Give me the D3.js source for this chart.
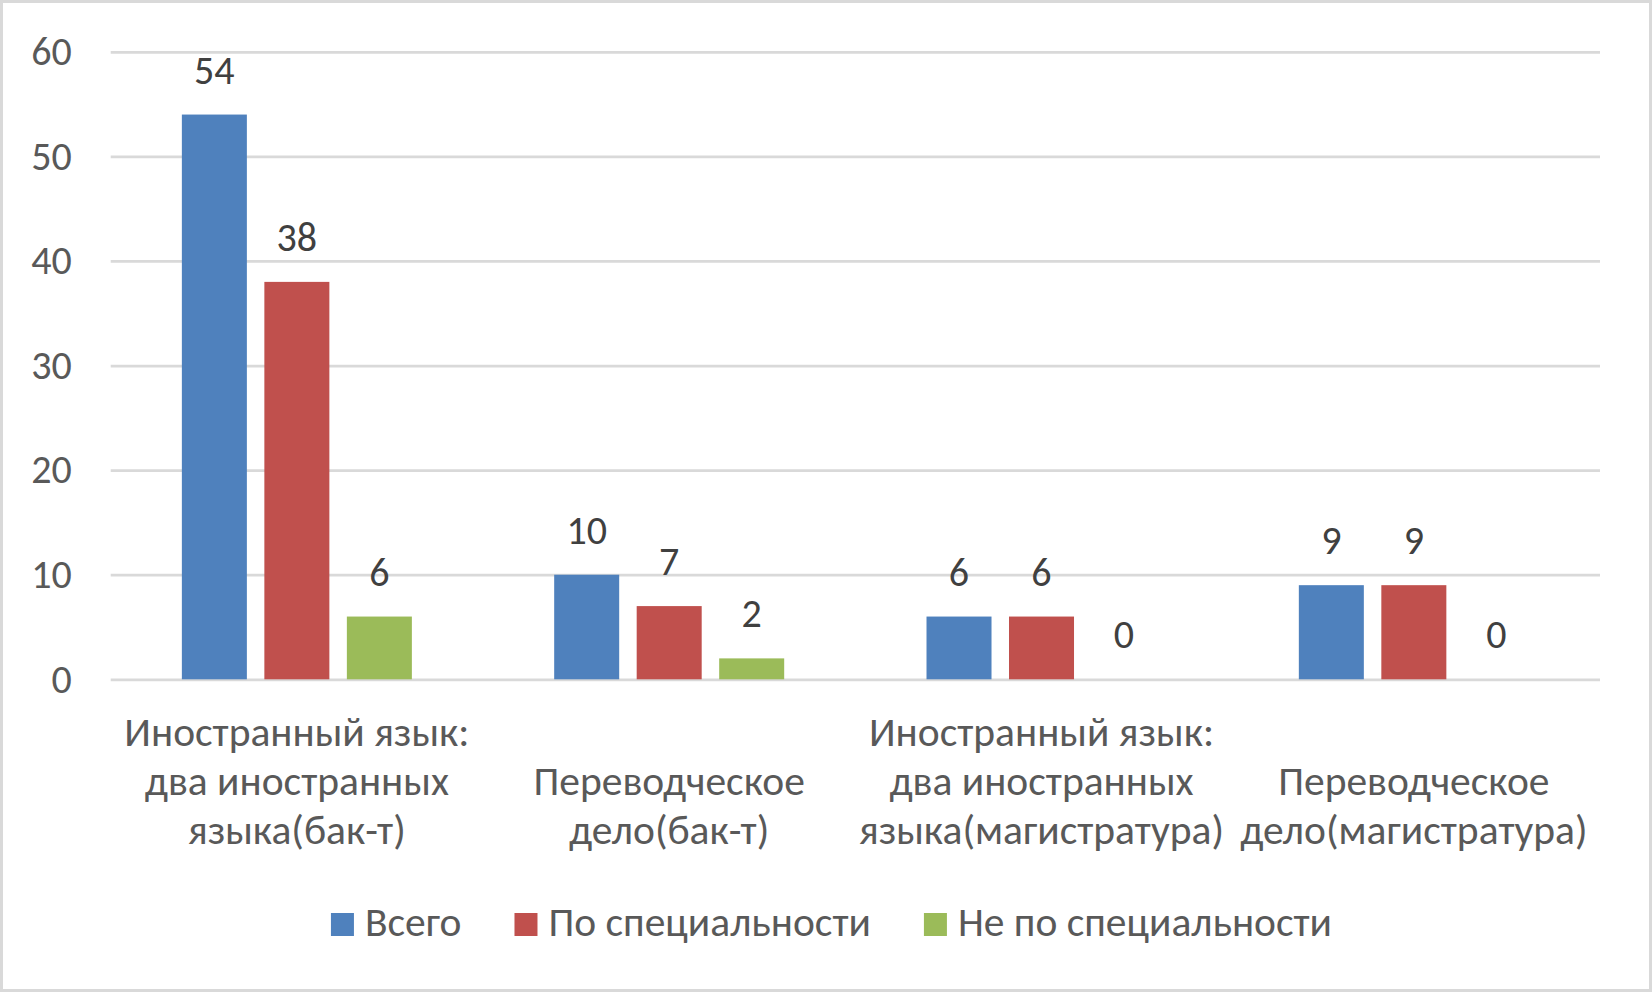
<!DOCTYPE html>
<meta charset="utf-8">

<!-- Load d3.js -->
<script src="https://d3js.org/d3.v7.min.js"></script>

<style>
  body { margin: 0; background: #fff; }
  text { font-family: Carlito, Calibri, Lato, sans-serif; }
</style>

<!-- Create a div where the graph will take place -->
<div id="my_dataviz"></div>

<script>

// data
var categories = [
  ["Иностранный язык:", "два иностранных", "языка(бак-т)"],
  ["Переводческое", "дело(бак-т)"],
  ["Иностранный язык:", "два иностранных", "языка(магистратура)"],
  ["Переводческое", "дело(магистратура)"]
];
var seriesNames = ["Всего", "По специальности", "Не по специальности"];
var total = [54, 10, 6, 9];
var bySpecialty = [38, 7, 6, 9];
var notBySpecialty = [6, 2, 0, 0];
var yTicks = [0, 10, 20, 30, 40, 50, 60];

var colors = ["#4f81bd", "#c0504d", "#9bbb59"];
var seriesValues = [total, bySpecialty, notBySpecialty];

// dimensions
var W = 1652, H = 992;
var plot = {left: 110.7, right: 1600, top: 51.8, bottom: 679.3};
var fontSize = 40;
var labelSize = 41.5;

var svg = d3.select("#my_dataviz")
  .append("svg")
    .attr("width", W)
    .attr("height", H);

// outer frame
svg.append("rect")
  .attr("x", 1.5).attr("y", 1.5)
  .attr("width", W - 3).attr("height", H - 3)
  .attr("fill", "#fff")
  .attr("stroke", "#d9d9d9")
  .attr("stroke-width", 3);

// scales
var x0 = d3.scaleBand()
  .domain(d3.range(categories.length))
  .range([plot.left, plot.right])
  .padding(0);

var groupWidth = 247.5;
var x1 = d3.scaleBand()
  .domain(d3.range(seriesNames.length))
  .range([0, groupWidth])
  .paddingInner(0.212)
  .paddingOuter(0.106);

var y = d3.scaleLinear()
  .domain([0, 60])
  .range([plot.bottom, plot.top]);

// Y axis with gridlines
var yAxis = svg.append("g")
  .attr("transform", "translate(" + plot.left + ",0)")
  .call(d3.axisLeft(y)
    .tickValues(yTicks)
    .tickSize(-(plot.right - plot.left))
    .tickPadding(39));
yAxis.select(".domain").remove();
yAxis.selectAll("line")
  .attr("stroke", "#d9d9d9")
  .attr("stroke-width", 2.7);
yAxis.selectAll("text")
  .attr("fill", "#595959")
  .style("font-size", fontSize + "px")
  .style("font-family", "Carlito, Calibri, Lato, sans-serif");

// bars
var rows = [];
categories.forEach(function(c, i) {
  seriesValues.forEach(function(vals, s) {
    rows.push({cat: i, s: s, v: vals[i]});
  });
});

function barX(d) {
  return x0(d.cat) + x0.bandwidth() / 2 - groupWidth / 2 + x1(d.s);
}

svg.append("g")
  .selectAll("rect")
  .data(rows)
  .enter()
  .append("rect")
    .attr("x", barX)
    .attr("y", function(d) { return y(d.v); })
    .attr("width", x1.bandwidth())
    .attr("height", function(d) { return y(0) - y(d.v); })
    .attr("fill", function(d) { return colors[d.s]; });

// value labels
svg.append("g")
  .selectAll("text")
  .data(rows)
  .enter()
  .append("text")
    .attr("x", function(d) { return barX(d) + x1.bandwidth() / 2; })
    .attr("y", function(d) { return y(d.v) - 31; })
    .attr("text-anchor", "middle")
    .attr("fill", "#404040")
    .style("font-size", fontSize + "px")
    .text(function(d) { return d.v; });

// category labels, lines aligned to the bottom row
var rowBase = [746, 795, 844];
var catLabels = svg.append("g")
  .selectAll("text")
  .data(categories)
  .enter()
  .append("text")
    .attr("text-anchor", "middle")
    .attr("fill", "#595959")
    .style("font-size", labelSize + "px");
catLabels.each(function(lines, i) {
  var t = d3.select(this);
  var cx = x0(i) + x0.bandwidth() / 2;
  lines.forEach(function(line, j) {
    t.append("tspan")
      .attr("x", cx)
      .attr("y", rowBase[rowBase.length - lines.length + j])
      .text(line);
  });
});

// legend
var legend = svg.append("g");
var items = legend.selectAll("g")
  .data(seriesNames)
  .enter()
  .append("g");
items.append("rect")
  .attr("width", 23)
  .attr("height", 23)
  .attr("y", 913)
  .attr("fill", function(d, i) { return colors[i]; });
items.append("text")
  .attr("x", 34)
  .attr("y", 936)
  .attr("fill", "#595959")
  .style("font-size", labelSize + "px")
  .text(function(d) { return d; });

var widths = [];
items.selectAll("text").each(function() { widths.push(this.getComputedTextLength()); });
var gap = 53;
var totalW = d3.sum(widths, function(w) { return 34 + w; }) + gap * (widths.length - 1);
var lx = 831.5 - totalW / 2;
items.attr("transform", function(d, i) {
  var pos = lx;
  lx += 34 + widths[i] + gap;
  return "translate(" + pos + ",0)";
});

</script>
